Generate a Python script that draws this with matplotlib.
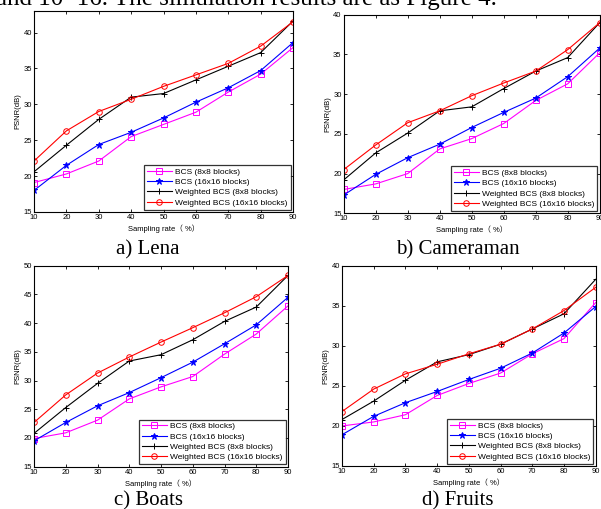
import matplotlib
matplotlib.use('Agg')
import matplotlib.pyplot as plt

plt.rcParams['font.family'] = ['Liberation Sans', 'Noto Sans CJK SC', 'DejaVu Sans']

# sampling rates (%)
rates = [10, 20, 30, 40, 50, 60, 70, 80, 90]

labels = ['BCS (8x8 blocks)', 'BCS (16x16 blocks)',
          'Weighted BCS (8x8 blocks)', 'Weighted BCS (16x16 blocks)']

# PSNR values (dB), one list per curve
lena_bcs8   = [19.1, 20.3, 22.1, 25.5, 27.2, 28.9, 31.7, 34.2, 37.9]
lena_bcs16  = [18.0, 21.5, 24.4, 26.1, 28.1, 30.3, 32.3, 34.7, 38.6]
lena_wbcs8  = [20.6, 24.3, 27.9, 31.0, 31.5, 33.4, 35.3, 37.2, 41.6]
lena_wbcs16 = [22.1, 26.3, 29.0, 30.7, 32.5, 34.1, 35.7, 38.1, 41.5]

cam_bcs8   = [18.0, 18.7, 20.0, 23.1, 24.4, 26.3, 29.2, 31.3, 35.2]
cam_bcs16  = [17.3, 19.9, 22.0, 23.7, 25.8, 27.7, 29.5, 32.2, 35.8]
cam_wbcs8  = [19.2, 22.6, 25.1, 27.9, 28.4, 30.7, 32.9, 34.6, 39.0]
cam_wbcs16 = [20.5, 23.6, 26.4, 27.9, 29.8, 31.4, 32.9, 35.6, 39.0]

boats_bcs8   = [19.9, 20.9, 23.1, 26.8, 28.9, 30.7, 34.6, 38.1, 43.0]
boats_bcs16  = [19.5, 22.7, 25.6, 27.9, 30.5, 33.2, 36.4, 39.7, 44.5]
boats_wbcs8  = [20.8, 25.3, 29.5, 33.4, 34.5, 37.1, 40.3, 42.8, 48.3]
boats_wbcs16 = [22.7, 27.5, 31.3, 34.1, 36.7, 39.2, 41.8, 44.6, 48.3]

fruits_bcs8   = [20.0, 20.5, 21.4, 23.8, 25.3, 26.6, 29.0, 30.9, 35.4]
fruits_bcs16  = [18.9, 21.2, 22.9, 24.3, 25.8, 27.2, 29.1, 31.6, 34.9]
fruits_wbcs8  = [20.8, 23.1, 25.7, 28.0, 28.9, 30.2, 32.1, 34.0, 38.3]
fruits_wbcs16 = [21.8, 24.6, 26.5, 27.7, 29.0, 30.2, 32.1, 34.4, 37.3]

captions = ['a) Lena', 'b) Cameraman', 'c) Boats', 'd) Fruits']

W, H = 601, 509
fig = plt.figure(figsize=(W / 100, H / 100), dpi=100)

# axes boxes in pixels: left, top, right, bottom
boxes = [(34, 11, 293, 212), (343.7, 14.7, 599.7, 213.3),
         (34, 265.7, 288, 466.7), (342, 265.7, 595.7, 466)]
ylims = [(15, 43), (15, 40), (15, 50), (15, 40)]
caption_pos = [(148, 254), (458, 254), (148, 505), (458, 505)]

data = [
    [lena_bcs8, lena_bcs16, lena_wbcs8, lena_wbcs16],
    [cam_bcs8, cam_bcs16, cam_wbcs8, cam_wbcs16],
    [boats_bcs8, boats_bcs16, boats_wbcs8, boats_wbcs16],
    [fruits_bcs8, fruits_bcs16, fruits_wbcs8, fruits_wbcs16],
]

styles = [
    dict(color='#ff00ff', marker='s', mfc='none', ms=4),
    dict(color='#0000ff', marker='*', ms=4.5),
    dict(color='black', marker='+', ms=5),
    dict(color='#ff0000', marker='o', mfc='none', ms=4),
]

fs = 5.5
for i in range(4):
    l, t, r, b = boxes[i]
    ax = fig.add_axes([l / W, 1 - b / H, (r - l) / W, (b - t) / H])
    for vals, lab, st in zip(data[i], labels, styles):
        ax.plot(rates, vals, label=lab, lw=0.8, mew=0.7, **st)
    ax.set_xlim(10, 90)
    ax.set_ylim(*ylims[i])
    ax.set_xticks(rates)
    ax.set_yticks(range(15, int(ylims[i][1]) + 1, 5))
    ax.tick_params(direction='in', top=True, right=True, length=2.5,
                   width=0.6, labelsize=fs, pad=1.5)
    for s in ax.spines.values():
        s.set_linewidth(0.8)
    ax.set_xlabel('Sampling rate（ %）', fontsize=fs, labelpad=2.5)
    ax.set_ylabel('PSNR(dB)', fontsize=fs, labelpad=1.5)
    leg = ax.legend(loc='lower right', fontsize=6, frameon=True, fancybox=False,
                    edgecolor='black', handlelength=3.0, handletextpad=0.4,
                    labelspacing=0.3, borderaxespad=0.3, borderpad=0.35)
    leg.get_frame().set_linewidth(0.9)
    cx, cy = caption_pos[i]
    fig.text(cx / W, 1 - cy / H, captions[i], ha='center', va='baseline',
             fontsize=15, family='Liberation Serif')

# running text of the page, cut off at the top edge
fig.text(-4 / W, 1 - 5 / H, 'and 10~16. The simulation results are as Figure 4.',
         ha='left', va='baseline', fontsize=18, family='Liberation Serif')

fig.savefig('out.png', dpi=100)
